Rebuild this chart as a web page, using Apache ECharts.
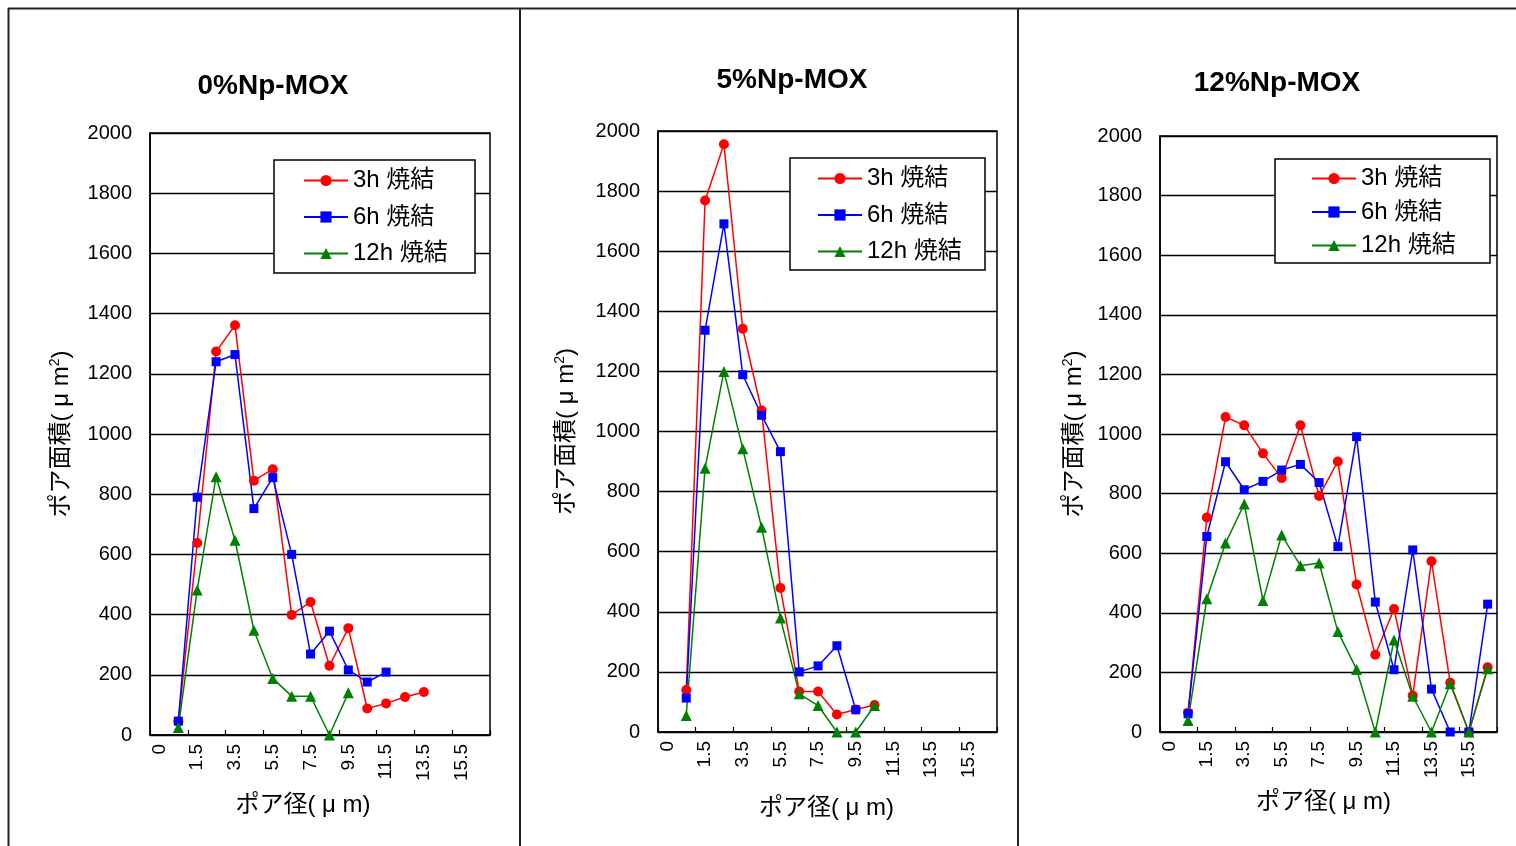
<!DOCTYPE html>
<html>
<head>
<meta charset="utf-8">
<script src="https://cdn.jsdelivr.net/npm/echarts@6/dist/echarts.min.js"></script>
<style>
html,body{margin:0;padding:0;background:#fff;}
#chart{width:1516px;height:846px;}
</style>
</head>
<body>
<div id="chart"></div>
<script>
// ---- data ----
const categories = ['0','0.5','1.5','2.5','3.5','4.5','5.5','6.5','7.5','8.5','9.5','10.5','11.5','12.5','13.5','14.5','15.5','16.5'];
const seriesNames = ['3h 焼結', '6h 焼結', '12h 焼結'];
const panelTitles = ['0%Np-MOX', '5%Np-MOX', '12%Np-MOX'];
const yTicks = [0, 2000, 200];

const np0_3h  = [null, 45, 638, 1274, 1361, 845, 883, 399, 442, 230, 355, 88, 105, 126, 143];
const np0_6h  = [null, 46, 790, 1240, 1264, 752, 855, 600, 269, 345, 216, 176, 209];
const np0_12h = [null, 25, 482, 858, 647, 348, 188, 129, 129, 0, 140];

const np5_3h  = [null, 140, 1769, 1956, 1342, 1070, 479, 135, 135, 58, 75, 90];
const np5_6h  = [null, 113, 1337, 1691, 1189, 1054, 933, 200, 220, 287, 74];
const np5_12h = [null, 55, 878, 1200, 943, 681, 379, 127, 88, 0, 0, 88];

const np12_3h  = [null, 65, 720, 1057, 1029, 935, 852, 1029, 792, 908, 495, 259, 413, 122, 573, 165, 0, 217];
const np12_6h  = [null, 61, 656, 907, 813, 841, 879, 898, 837, 622, 991, 436, 209, 611, 144, 0, 0, 429];
const np12_12h = [null, 39, 447, 634, 765, 441, 661, 558, 567, 337, 210, 0, 309, 120, 0, 162, 0, 212];

const panelData = [
  [np0_3h, np0_6h, np0_12h],
  [np5_3h, np5_6h, np5_12h],
  [np12_3h, np12_6h, np12_12h]
];

// ---- layout / style ----
const FONT = "'Liberation Sans', 'Noto Sans CJK JP', sans-serif";
const layouts = [
  {grid:{left:150, top:133, width:340, height:602}, title:{x:268, y:67}, yGap:76, xGap:58, xPad:34,
   legend:{left:303, top:168, gap:11.5}, box:{x:274, y:160, w:201, h:113}},
  {grid:{left:658, top:131, width:339, height:601}, title:{x:787, y:61}, yGap:79, xGap:64, xPad:2,
   legend:{left:817, top:166, gap:11.5}, box:{x:790, y:158, w:195, h:112}},
  {grid:{left:1160, top:136, width:337, height:596}, title:{x:1272, y:64}, yGap:73, xGap:58, xPad:10,
   legend:{left:1311, top:166, gap:8.5}, box:{x:1275, y:159, w:215, h:104}}
];
const styles = [
  {color:'#ff0000', symbol:'circle', size:10},
  {color:'#0000ff', symbol:'rect', size:9},
  {color:'#008000', symbol:'triangle', size:11}
];

const option = {
  backgroundColor:'#fff',
  animation:false,
  title:[], grid:[], xAxis:[], yAxis:[], legend:[], series:[],
  graphic:[]
};

// outer frame lines
option.graphic.push(
  {type:'line', shape:{x1:8, y1:8.5, x2:1516, y2:8.5}, style:{stroke:'#222', lineWidth:2}, z:10},
  {type:'line', shape:{x1:8.5, y1:8, x2:8.5, y2:846}, style:{stroke:'#222', lineWidth:2}, z:10},
  {type:'line', shape:{x1:520, y1:8, x2:520, y2:846}, style:{stroke:'#222', lineWidth:2}, z:10},
  {type:'line', shape:{x1:1018, y1:8, x2:1018, y2:846}, style:{stroke:'#222', lineWidth:2}, z:10}
);

layouts.forEach((L, p) => {
  option.title.push({
    text: panelTitles[p], left: L.title.x, top: L.title.y, textAlign:'center',
    textStyle:{fontFamily:FONT, fontSize:28, fontWeight:'bold', color:'#000'}
  });
  option.grid.push(Object.assign({show:true, borderColor:'#000', borderWidth:1.5, backgroundColor:'transparent'}, L.grid));
  option.xAxis.push({
    type:'category', gridIndex:p, data:categories, boundaryGap:true,
    name:'ポア径( μ m)', nameLocation:'middle', nameGap:L.xGap,
    nameTextStyle:{fontFamily:FONT, fontSize:24, color:'#000', padding:[0, L.xPad, 0, 0]},
    axisLine:{lineStyle:{color:'#000', width:1.5}},
    axisTick:{show:true, inside:true, length:5, interval:1, lineStyle:{color:'#000', width:1.2}},
    axisLabel:{interval:1, rotate:90, margin:9, fontFamily:FONT, fontSize:19, color:'#000'},
    splitLine:{show:false}
  });
  option.yAxis.push({
    type:'value', gridIndex:p, min:yTicks[0], max:yTicks[1], interval:yTicks[2],
    name:'ポア面積( μ m{sup|2})', nameLocation:'middle', nameGap:L.yGap,
    nameTextStyle:{fontFamily:FONT, fontSize:24, color:'#000',
      rich:{sup:{fontFamily:FONT, fontSize:14, color:'#000', verticalAlign:'top', padding:[0,0,12,0]}}},
    axisLine:{show:true, lineStyle:{color:'#000', width:1.5}},
    axisTick:{show:false},
    axisLabel:{margin:18, fontFamily:FONT, fontSize:20, color:'#000', formatter: v => String(v)},
    splitLine:{show:true, lineStyle:{color:'#000', width:1.4}}
  });
  option.graphic.push({
    type:'rect', shape:{x:L.box.x, y:L.box.y, width:L.box.w, height:L.box.h},
    style:{fill:'#fff', stroke:'#000', lineWidth:1.5}, z:3
  });
  option.legend.push({
    orient:'vertical', left:L.legend.left, top:L.legend.top, itemGap:L.legend.gap,
    itemWidth:44, itemHeight:14, padding:0, z:5,
    data: seriesNames.slice(),
    textStyle:{fontFamily:FONT, fontSize:24, color:'#000', lineHeight:25}
  });
  seriesNames.forEach((nm, s) => {
    option.series.push({
      type:'line', name:nm, xAxisIndex:p, yAxisIndex:p,
      data: panelData[p][s],
      symbol: styles[s].symbol, symbolSize: styles[s].size,
      showAllSymbol:true, connectNulls:false,
      lineStyle:{color:styles[s].color, width:1.5},
      itemStyle:{color:styles[s].color}
    });
  });
});

const chart = echarts.init(document.getElementById('chart'), null, {renderer:'canvas'});
chart.setOption(option);
</script>
</body>
</html>
